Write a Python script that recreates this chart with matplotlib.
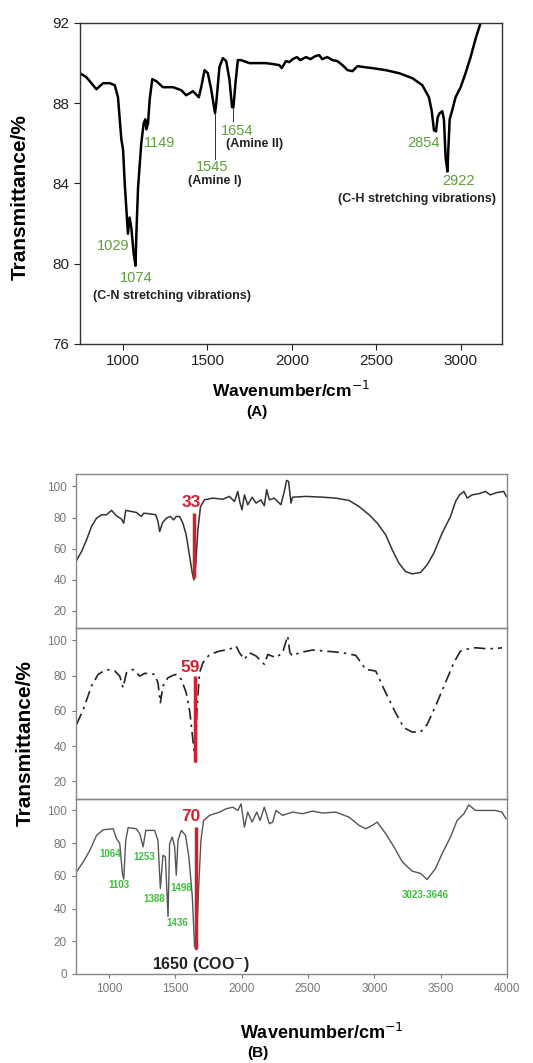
import matplotlib
matplotlib.use("Agg")
import matplotlib.pyplot as plt

plt.rcParams["font.family"] = ["Liberation Sans", "DejaVu Sans"]

# ---------------------------------------------------------------- data
# (A) spectrum
a_wn = [744, 783, 842, 882, 921, 951, 970, 990, 1000, 1010, 1029, 1039, 1049,
        1063, 1074, 1079, 1089, 1108, 1122, 1132, 1138, 1148, 1158, 1173, 1197,
        1236, 1296, 1345, 1374, 1414, 1449, 1463, 1483, 1502, 1522, 1545, 1552,
        1571, 1591, 1611, 1630, 1646, 1654, 1666, 1680, 1699, 1749, 1800, 1847,
        1890, 1926, 1940, 1965, 1985, 2005, 2030, 2050, 2084, 2110, 2140, 2162,
        2180, 2210, 2241, 2270, 2300, 2330, 2359, 2389, 2430, 2478, 2556, 2635,
        2714, 2773, 2812, 2828, 2842, 2854, 2864, 2875, 2891, 2901, 2911, 2922,
        2927, 2935, 2950, 2970, 3000, 3029, 3059, 3088, 3118, 3140]
a_tr = [89.5, 89.3, 88.7, 89.0, 89.0, 88.9, 88.3, 86.2, 85.7, 84.0, 81.5, 82.3,
        81.8, 80.5, 79.9, 81.5, 83.8, 86.0, 87.0, 87.2, 86.7, 87.0, 88.2, 89.2,
        89.1, 88.8, 88.8, 88.65, 88.4, 88.6, 88.3, 88.8, 89.65, 89.5, 88.7,
        87.5, 88.0, 89.8, 90.25, 90.1, 89.2, 87.8, 87.8, 89.0, 90.15, 90.15,
        90.0, 90.0, 90.0, 89.95, 89.9, 89.75, 90.1, 90.05, 90.2, 90.3, 90.15,
        90.3, 90.2, 90.35, 90.4, 90.2, 90.3, 90.15, 90.1, 89.9, 89.65, 89.6,
        89.85, 89.8, 89.75, 89.65, 89.5, 89.25, 88.9, 88.3, 87.65, 86.65, 86.6,
        87.3, 87.5, 87.6, 87.2, 85.3, 84.6, 85.7, 87.2, 87.65, 88.3, 88.8, 89.5,
        90.3, 91.2, 92.0, 92.8]

a_labels = ["1149", "1654", "1545", "1029", "1074", "2854", "2922"]
a_lab_x = [1217, 1674, 1528, 941, 1079, 2777, 2990]
a_lab_y = [86.0, 86.6, 84.8, 80.9, 79.3, 86.0, 84.1]
a_notes = ["(Amine II)", "(Amine I)", "(C-N stretching vibrations)",
           "(C-H stretching vibrations)"]
a_note_x = [1778, 1542, 1292, 2743]
a_note_y = [85.95, 84.1, 78.4, 83.25]

# (B) top spectrum
b1_wn = [749, 792, 830, 867, 905, 942, 980, 1018, 1055, 1093, 1110, 1125, 1168,
         1205, 1243, 1261, 1306, 1351, 1368, 1381, 1401, 1431, 1461, 1486, 1506,
         1531, 1556, 1581, 1607, 1627, 1639, 1652, 1669, 1689, 1719, 1782, 1857,
         1907, 1945, 1970, 1987, 2002, 2020, 2045, 2078, 2108, 2145, 2170, 2188,
         2208, 2245, 2295, 2321, 2338, 2353, 2371, 2383, 2484, 2609, 2709, 2809,
         2884, 2960, 3022, 3085, 3135, 3185, 3235, 3285, 3348, 3398, 3448, 3511,
         3574, 3612, 3642, 3675, 3700, 3737, 3787, 3837, 3874, 3924, 3975, 3995]
b1_tr = [51.7, 58.2, 65.7, 74.3, 79.6, 81.8, 81.8, 84.6, 81.1, 79.0, 76.4, 84.6,
         83.9, 83.3, 80.7, 82.8, 82.4, 81.8, 77.5, 71.0, 76.4, 79.6, 80.7, 78.5,
         80.7, 80.7, 76.4, 68.9, 55.0, 44.2, 39.9, 48.5, 72.1, 87.1, 91.4, 92.5,
         91.8, 93.6, 90.3, 96.8, 89.3, 85.0, 94.6, 88.2, 93.1, 89.3, 91.4, 87.6,
         97.9, 91.4, 92.5, 88.2, 96.8, 103.9, 103.2, 89.3, 93.1, 93.6, 93.1, 92.5,
         91.0, 87.1, 81.8, 76.4, 68.9, 59.2, 50.7, 45.3, 43.8, 44.7, 49.6, 57.1,
         70.0, 80.7, 90.3, 94.6, 96.8, 92.5, 94.6, 95.3, 96.8, 94.6, 96.1, 96.8,
         93.6]

# (B) middle spectrum
b2_wn = [754, 805, 867, 917, 980, 1043, 1080, 1105, 1130, 1180, 1231, 1268, 1343,
         1368, 1386, 1406, 1444, 1481, 1506, 1544, 1581, 1609, 1631, 1644, 1652,
         1661, 1681, 1707, 1757, 1832, 1907, 1957, 1982, 2020, 2057, 2108, 2170,
         2196, 2258, 2308, 2346, 2363, 2383, 2433, 2534, 2634, 2759, 2859, 2935,
         3010, 3085, 3160, 3223, 3285, 3348, 3398, 3461, 3536, 3599, 3649, 3687,
         3762, 3837, 3912, 3962]
b2_tr = [52.3, 60.8, 74.1, 80.7, 83.5, 82.6, 79.7, 73.1, 81.6, 83.5, 79.7, 81.3,
         80.7, 76.0, 64.6, 74.1, 78.8, 80.1, 80.7, 77.9, 70.3, 58.9, 43.8, 34.3,
         31.0, 58.9, 81.6, 87.3, 92.0, 93.9, 94.9, 96.8, 93.0, 89.2, 93.0, 91.1,
         86.4, 92.0, 90.2, 93.0, 102.5, 93.0, 91.1, 93.0, 94.5, 93.9, 93.0, 91.5,
         83.5, 82.6, 70.3, 58.9, 50.4, 48.0, 48.0, 52.3, 62.7, 76.0, 87.3, 93.9,
         94.9, 95.8, 95.3, 95.3, 95.8]

# (B) bottom spectrum
b3_wn = [754, 805, 855, 905, 955, 1030, 1055, 1080, 1100, 1110, 1125, 1143, 1205,
         1231, 1256, 1276, 1343, 1368, 1386, 1406, 1424, 1444, 1456, 1476, 1494,
         1506, 1519, 1544, 1576, 1601, 1627, 1644, 1657, 1674, 1692, 1712, 1757,
         1832, 1882, 1932, 1970, 1995, 2020, 2045, 2078, 2113, 2138, 2170, 2208,
         2233, 2258, 2308, 2383, 2459, 2534, 2609, 2709, 2809, 2884, 2935, 2985,
         3022, 3085, 3148, 3210, 3285, 3348, 3398, 3461, 3511, 3574, 3624, 3675,
         3712, 3762, 3837, 3912, 3962, 3992]
b3_tr = [62.5, 68.6, 75.7, 84.8, 88.2, 88.8, 82.8, 79.7, 61.5, 58.0, 81.7, 89.5,
         88.8, 85.8, 77.7, 87.8, 87.8, 81.7, 52.3, 72.6, 71.6, 35.1, 79.7, 83.8,
         77.7, 60.4, 81.7, 87.8, 84.8, 71.6, 47.3, 16.8, 14.8, 51.3, 81.7, 93.9,
         97.0, 99.0, 101.0, 102.0, 100.0, 104.0, 89.8, 99.0, 92.9, 99.0, 93.9,
         102.0, 91.9, 92.9, 100.0, 97.0, 99.0, 98.0, 99.6, 98.4, 99.0, 95.9, 90.9,
         88.8, 90.9, 92.9, 85.8, 77.7, 68.6, 62.9, 61.5, 57.8, 64.5, 73.6, 83.8,
         93.9, 98.0, 103.4, 100.0, 100.0, 100.0, 99.0, 94.9]

b3_labels = ["1064", "1103", "1253", "1388", "1498", "1436", "3023-3646"]
b3_lab_x = [1005, 1075, 1268, 1338, 1544, 1514, 3386]
b3_lab_y = [73.6, 54.4, 71.6, 45.8, 52.3, 31.4, 48.3]

# red marker lines: (x, top, bottom, label, label_x, label_y)
red_marks = [(1639, 82.8, 41.0, "33", 1619, 89.7),
             (1644, 80.0, 31.0, "59", 1612, 84.5),
             (1657, 90.0, 15.0, "70", 1619, 96.0)]

W, H = 533, 1063
RED = "#d3202e"
GREEN_A = "#5f9e3c"
GREEN_B = "#3cbf3c"


def px_axes(fig, left, top, right, bottom):
    return fig.add_axes([left / W, 1 - bottom / H, (right - left) / W,
                         (bottom - top) / H])


fig = plt.figure(figsize=(W / 100, H / 100), dpi=100)

# ---------------------------------------------------------------- (A)
ax = px_axes(fig, 80, 23, 502, 344)
ax.plot(a_wn, a_tr, color="black", lw=1.8)
ax.set_xlim(745, 3245)
ax.set_ylim(76, 92)
ax.set_xticks([1000, 1500, 2000, 2500, 3000])
ax.set_yticks([76, 80, 84, 88, 92])
ax.tick_params(labelsize=11, colors="#222222", direction="out", length=4)
for s in ax.spines.values():
    s.set_color("#333333")
    s.set_linewidth(1.0)
for t, x, y in zip(a_labels, a_lab_x, a_lab_y):
    ax.text(x, y, t, color=GREEN_A, fontsize=10.5, ha="center", va="center")
for t, x, y in zip(a_notes, a_note_x, a_note_y):
    ax.text(x, y, t, color="#222222", fontsize=9, fontweight="bold",
            ha="center", va="center")
ax.plot([1545, 1545], [87.5, 85.2], color="#333333", lw=0.7)
ax.plot([1654, 1654], [87.8, 87.1], color="#333333", lw=0.7)

fig.text(20 / W, 1 - 197 / H, "Transmittance/%", fontsize=15,
         fontweight="bold", rotation=90, ha="center", va="center")
fig.text(291 / W, 1 - 390 / H, "Wavenumber/cm$^{-1}$", fontsize=12.5,
         fontweight="bold", ha="center", va="center")
fig.text(257 / W, 1 - 412 / H, "(A)", fontsize=11, fontweight="bold",
         ha="center", va="center")

# ---------------------------------------------------------------- (B)
ax1 = px_axes(fig, 76, 474, 507, 628)
ax2 = px_axes(fig, 76, 628, 507, 799)
ax3 = px_axes(fig, 76, 799, 507, 974)

ax1.plot(b1_wn, b1_tr, color="#333333", lw=1.1)
ax2.plot(b2_wn, b2_tr, color="#222222", lw=1.2, dashes=(7, 3, 1.5, 3))
ax3.plot(b3_wn, b3_tr, color="#555555", lw=1.0)

ax1.set_ylim(9, 108)
ax2.set_ylim(10, 107)
ax3.set_ylim(0, 107)
ax1.set_yticks([20, 40, 60, 80, 100])
ax2.set_yticks([20, 40, 60, 80, 100])
ax3.set_yticks([0, 20, 40, 60, 80, 100])

for a, (x, y0, y1, lab, lx, ly) in zip([ax1, ax2, ax3], red_marks):
    a.set_xlim(750, 4000)
    a.patch.set_alpha(0)
    a.plot([x, x], [y0, y1], color=RED, lw=2.5, solid_capstyle="butt")
    a.text(lx, ly, lab, color=RED, fontsize=12.5, fontweight="bold",
           ha="center", va="center")
    a.tick_params(labelsize=8.5, colors="#777777", direction="out", length=3)
    for s in a.spines.values():
        s.set_color("#888888")
        s.set_linewidth(1.0)

for a in (ax1, ax2):
    a.set_xticks([])
ax3.set_xticks([1000, 1500, 2000, 2500, 3000, 3500, 4000])

for t, x, y in zip(b3_labels, b3_lab_x, b3_lab_y):
    ax3.text(x, y, t, color=GREEN_B, fontsize=7, fontweight="bold",
             ha="center", va="center")
ax3.text(1694, 5.7, "1650 (COO$^{-}$)", fontsize=11.5, fontweight="bold",
         ha="center", va="center", color="#222222")

fig.text(25 / W, 1 - 743 / H, "Transmittance/%", fontsize=15,
         fontweight="bold", rotation=90, ha="center", va="center")
fig.text(322 / W, 1 - 1033 / H, "Wavenumber/cm$^{-1}$", fontsize=13,
         fontweight="bold", ha="center", va="center")
fig.text(258 / W, 1 - 1053 / H, "(B)", fontsize=11, fontweight="bold",
         ha="center", va="center")

fig.savefig("out.png", dpi=100)
